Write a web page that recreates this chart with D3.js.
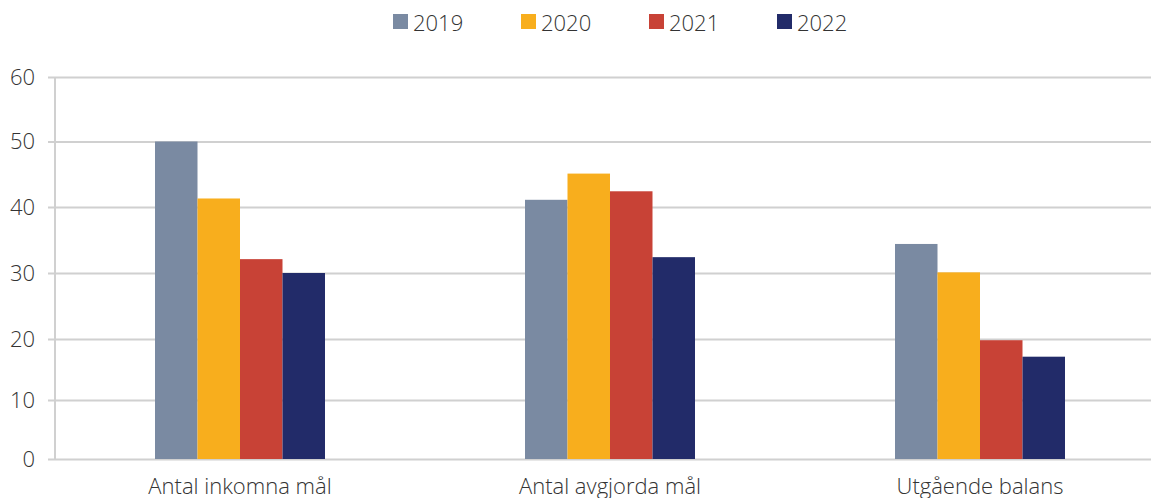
<!DOCTYPE html>
<html lang="sv">
<head>
  <meta charset="UTF-8">
  <title>Mål 2019–2022</title>
  <style>
    body { margin: 0; background: #fff; }
    svg { display: block; font-family: "Open Sans", sans-serif; }
    .grid line { stroke: #d0d0d0; stroke-width: 2; }
    .grid .domain { display: none; }
  </style>
  <script src="https://d3js.org/d3.v7.min.js"></script>
</head>
<body>
  <svg width="1151" height="498"></svg>
  <script>
    // data
    const categories = ["Antal inkomna mål", "Antal avgjorda mål", "Utgående balans"];
    const years = ["2019", "2020", "2021", "2022"];
    const v2019 = [50, 41.1, 34.4];
    const v2020 = [41.3, 45.1, 30.1];
    const v2021 = [32.1, 42.4, 19.8];
    const v2022 = [30, 32.4, 17.1];
    const yTicks = [0, 10, 20, 30, 40, 50, 60];
    const colors = ["#7a8aa2", "#f8ae1d", "#c84236", "#222b69"];

    const series = [v2019, v2020, v2021, v2022];

    const svg = d3.select("svg");
    const mLeft = 55, mRight = 1165;

    const x0 = d3.scaleBand().domain(categories).range([mLeft, mRight]);
    const groupW = 170;
    const x1 = d3.scaleBand().domain(years).range([0, groupW]);
    // gridlines in the original are not quite evenly spaced, so map tick by tick
    const y = d3.scaleLinear().domain(yTicks).range([459, 400, 339, 273, 207, 141.5, 77]);
    const color = d3.scaleOrdinal().domain(years).range(colors);

    // gridlines
    const grid = svg.append("g").attr("class", "grid")
      .attr("transform", `translate(${mLeft},0)`)
      .call(d3.axisLeft(y).tickValues(yTicks).tickSize(-(1151 - mLeft)).tickFormat(""));
    grid.selectAll("line").attr("x1", -7);

    // y axis vertical line
    svg.append("line")
      .attr("x1", mLeft).attr("x2", mLeft)
      .attr("y1", y(60)).attr("y2", y(0))
      .attr("stroke", "#d0d0d0").attr("stroke-width", 2);

    // y labels
    svg.append("g").selectAll("text")
      .data(yTicks).join("text")
      .attr("x", 35).attr("y", d => y(d))
      .attr("dy", "0.36em")
      .attr("text-anchor", "end")
      .attr("font-size", 22).attr("font-weight", 300)
      .attr("fill", "#333")
      .text(d => d);

    // bars
    const groups = svg.append("g").selectAll("g")
      .data(categories).join("g")
      .attr("transform", c => `translate(${x0(c) + (x0.bandwidth() - groupW) / 2},0)`);

    groups.selectAll("rect")
      .data((c, i) => years.map((yr, j) => ({ yr, v: series[j][i] })))
      .join("rect")
      .attr("x", d => x1(d.yr))
      .attr("width", x1.bandwidth())
      .attr("y", d => y(d.v))
      .attr("height", d => y(0) - y(d.v))
      .attr("fill", d => color(d.yr));

    // category labels
    svg.append("g").selectAll("text")
      .data(categories).join("text")
      .attr("x", c => x0(c) + x0.bandwidth() / 2)
      .attr("y", 494)
      .attr("text-anchor", "middle")
      .attr("font-size", 22).attr("font-weight", 300)
      .attr("fill", "#333")
      .text(c => c);

    // legend
    const legend = svg.append("g").selectAll("g")
      .data(years).join("g")
      .attr("transform", (d, i) => `translate(${393 + i * 128},0)`);
    legend.append("rect")
      .attr("x", 0).attr("y", 14).attr("width", 15).attr("height", 15)
      .attr("fill", d => color(d));
    legend.append("text")
      .attr("x", 20).attr("y", 31)
      .attr("font-size", 22).attr("font-weight", 300)
      .attr("fill", "#333")
      .text(d => d);
  </script>
</body>
</html>
